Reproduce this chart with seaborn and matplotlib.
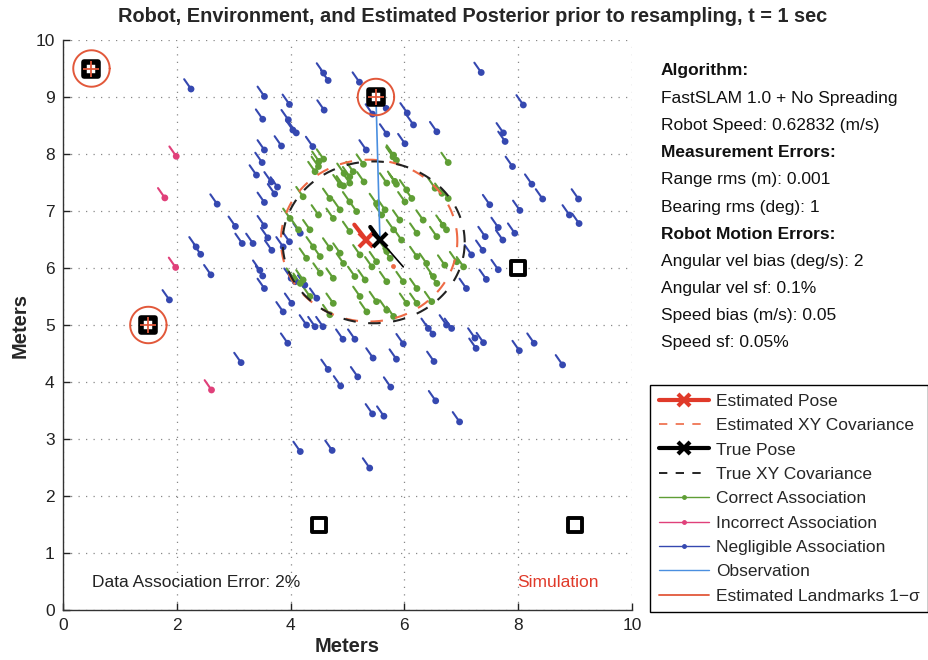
import numpy as np
import pandas as pd
import matplotlib
matplotlib.use("Agg")
import matplotlib.pyplot as plt
from matplotlib.lines import Line2D
import seaborn as sns

# ---------------- data ----------------
landmark_x = [0.5, 1.5, 5.5, 8.0, 4.5, 9.0]
landmark_y = [9.5, 5.0, 9.0, 6.0, 1.5, 1.5]
observed_x = [0.5, 1.5, 5.5]
observed_y = [9.5, 5.0, 9.0]

green_x = [6.77, 5.81, 4.50, 5.10, 4.94, 5.28, 4.43, 5.69, 5.83, 6.04, 6.54, 6.66, 4.87, 5.04, 4.69, 5.04,
           4.22, 5.51, 5.66, 6.01, 6.13, 6.33, 6.68, 3.99, 4.49, 4.75, 4.87, 5.16, 5.60, 5.92, 4.14, 4.34,
           5.04, 5.81, 5.95, 6.22, 6.57, 6.74, 4.40, 4.69, 4.87, 5.22, 4.28, 4.52, 4.93, 5.43, 5.51, 5.75,
           5.69, 6.22, 6.39, 6.71, 6.92, 4.05, 4.22, 4.52, 4.75, 5.13, 5.31, 5.69, 5.98, 6.22, 6.51, 6.57,
           4.34, 4.75, 5.22, 5.51, 5.69, 6.04, 6.22, 6.48, 4.69, 5.34, 5.81, 4.17, 4.58, 4.49, 5.04, 5.29,
           4.93, 5.86, 5.80, 5.86, 6.77, 7.04]
green_y = [7.85, 7.98, 7.87, 7.69, 7.66, 7.82, 7.69, 7.49, 7.52, 7.37, 7.40, 7.31, 7.46, 7.49, 7.22, 7.16,
           7.25, 7.13, 7.02, 7.16, 7.22, 6.84, 6.75, 6.87, 6.93, 6.87, 7.02, 6.99, 6.93, 6.84, 6.67, 6.67,
           6.64, 6.67, 6.49, 6.61, 6.55, 6.67, 6.37, 6.35, 6.26, 6.23, 6.17, 6.20, 6.08, 6.02, 6.11, 6.17,
           6.29, 6.20, 6.08, 6.05, 6.11, 5.82, 5.79, 5.91, 5.82, 5.85, 5.79, 5.76, 5.76, 5.64, 5.85, 5.73,
           5.50, 5.38, 5.50, 5.41, 5.26, 5.38, 5.38, 5.41, 5.18, 5.23, 5.15, 5.73, 7.91, 7.78, 7.60, 7.51,
           7.44, 7.89, 7.95, 7.47, 7.22, 6.02]

blue_x = [2.25, 3.54, 3.98, 3.51, 3.96, 4.04, 4.10, 3.54, 3.84, 3.50, 3.40, 3.66, 3.77, 3.72, 3.54, 2.71,
          3.03, 3.54, 3.15, 3.34, 3.60, 3.67, 2.34, 2.42, 3.98, 4.17, 3.87, 2.60, 3.46, 3.51, 3.54, 1.87,
          3.87, 4.02, 4.01, 4.08, 4.25, 4.46, 4.28, 4.43, 4.57,
          4.58, 4.66, 5.21, 7.35, 4.59, 5.44, 5.68, 6.05, 6.16, 6.57, 5.69, 6.01, 5.33, 4.39,
          8.09, 7.74, 7.77, 7.90, 8.24, 8.43, 9.06, 7.50, 8.03, 8.90, 9.07, 7.65, 7.42, 7.73, 7.94, 7.38,
          7.18, 7.65, 7.44, 7.09, 7.39, 8.02, 8.28, 8.78, 6.42, 6.74, 6.83, 7.24,
          3.95, 3.13, 4.92, 5.13, 5.98, 6.50, 7.26, 5.45, 5.86, 6.52, 4.66, 5.18, 4.88, 5.76, 6.55, 5.44,
          5.64, 6.97, 4.17, 4.73, 5.39]
blue_y = [9.14, 9.01, 8.87, 8.61, 8.60, 8.42, 8.37, 8.07, 8.14, 7.85, 7.63, 7.51, 7.42, 7.30, 7.15, 7.12,
          6.73, 6.74, 6.43, 6.43, 6.53, 6.31, 6.37, 6.24, 6.46, 6.61, 6.37, 5.88, 5.96, 5.86, 5.64, 5.44,
          5.23, 5.38, 5.82, 5.76, 5.70, 5.47, 5.00, 4.97, 4.97,
          9.42, 9.29, 9.26, 9.43, 8.77, 8.70, 8.80, 8.72, 8.51, 8.39, 8.35, 8.18, 8.07, 8.13,
          8.86, 8.37, 8.22, 7.78, 7.47, 7.21, 7.21, 7.11, 7.01, 6.93, 6.78, 6.71, 6.55, 6.49, 6.61, 6.31,
          6.23, 5.97, 5.80, 5.64, 4.69, 4.55, 4.68, 4.30, 4.94, 5.00, 4.94, 4.77,
          4.68, 4.34, 4.75, 4.75, 4.67, 4.84, 4.59, 4.42, 4.40, 4.36, 4.22, 4.09, 3.93, 3.91, 3.67, 3.44,
          3.40, 3.30, 2.78, 2.80, 2.49]

pink_x = [1.99, 1.79, 1.98, 2.61]
pink_y = [7.96, 7.23, 6.01, 3.86]

est_pose = (5.33, 6.49)
est_heading_tip = (5.12, 6.76)
true_pose = (5.57, 6.49)
true_heading_tip = (5.40, 6.72)
true_tail_tip = (5.98, 6.02)
stray_point = (5.80, 6.03)

est_cov = dict(cx=5.38, cy=6.48, rx=1.55, ry=1.42)
true_cov = dict(cx=5.46, cy=6.45, rx=1.60, ry=1.42)

algo_lines = [("Algorithm:", True), ("FastSLAM 1.0 + No Spreading", False),
              ("Robot Speed: 0.62832 (m/s)", False), ("Measurement Errors:", True),
              ("Range rms (m): 0.001", False), ("Bearing rms (deg): 1", False),
              ("Robot Motion Errors:", True), ("Angular vel bias (deg/s): 2", False),
              ("Angular vel sf: 0.1%", False), ("Speed bias (m/s): 0.05", False),
              ("Speed sf: 0.05%", False)]

legend_labels = ["Estimated Pose", "Estimated XY Covariance", "True Pose", "True XY Covariance",
                 "Correct Association", "Incorrect Association", "Negligible Association",
                 "Observation", "Estimated Landmarks 1\u2212\u03c3"]

# ---------------- style ----------------
sns.set_theme(style="white")
plt.rcParams["font.family"] = ["Liberation Sans", "DejaVu Sans"]

RED = "#e03a2a"
ORANGE = "#ee6a45"
GREEN = "#5f9e35"
BLUE = "#3548b0"
PINK = "#e0407a"
OBS = "#4a8fe0"
LMRED = "#e2583a"
FS = 12.5

fig = plt.figure(figsize=(9.29, 6.60), dpi=100)
ax = fig.add_axes([63 / 929, 50 / 660, 569 / 929, 570 / 660])

HEAD = np.deg2rad(125)
L = 0.21


def particles(xs, ys, color):
    xs = np.asarray(xs); ys = np.asarray(ys)
    tx = xs + L * np.cos(HEAD); ty = ys + L * np.sin(HEAD)
    px = np.column_stack([xs, tx, np.full_like(xs, np.nan)]).ravel()
    py = np.column_stack([ys, ty, np.full_like(ys, np.nan)]).ravel()
    ax.plot(px, py, color=color, lw=1.5, zorder=3)
    df = pd.DataFrame({"x": xs, "y": ys})
    sns.scatterplot(data=df, x="x", y="y", color=color, s=24, edgecolor="none", ax=ax, zorder=4)


particles(blue_x, blue_y, BLUE)
particles(green_x, green_y, GREEN)
particles(pink_x, pink_y, PINK)

# covariance ellipses
t = np.linspace(0, 2 * np.pi, 300)
ax.plot(est_cov["cx"] + est_cov["rx"] * np.cos(t), est_cov["cy"] + est_cov["ry"] * np.sin(t),
        color=ORANGE, lw=1.5, dashes=(6, 6), zorder=5)
ax.plot(true_cov["cx"] + true_cov["rx"] * np.cos(t), true_cov["cy"] + true_cov["ry"] * np.sin(t),
        color="#222222", lw=1.5, dashes=(6, 6), dash_capstyle="butt", zorder=5)

# observation
ax.plot([true_pose[0], observed_x[2]], [true_pose[1], observed_y[2]], color=OBS, lw=1.2, zorder=6)

# landmark circles
for lx, ly in zip(observed_x, observed_y):
    ax.plot(lx + 0.32 * np.cos(t), ly + 0.32 * np.sin(t), color=LMRED, lw=1.4, zorder=6)

# landmarks
lm = pd.DataFrame({"x": landmark_x, "y": landmark_y})
sns.scatterplot(data=lm, x="x", y="y", marker="s", s=95, facecolor="white", edgecolor="black",
                linewidth=2.8, ax=ax, zorder=7)
ob = pd.DataFrame({"x": observed_x, "y": observed_y})
sns.scatterplot(data=ob, x="x", y="y", marker="s", s=95, facecolor="white", edgecolor="black",
                linewidth=4.0, ax=ax, zorder=7)
ax.plot(observed_x, observed_y, ls="none", marker="+", ms=12, mew=1.3, color=LMRED, zorder=8)

# poses
ax.plot([true_pose[0], true_tail_tip[0]], [true_pose[1], true_tail_tip[1]], color="black", lw=1.2, zorder=8)
ax.plot([est_pose[0], est_heading_tip[0]], [est_pose[1], est_heading_tip[1]], color=RED, lw=3, zorder=9)
ax.plot([est_pose[0]], [est_pose[1]], marker="x", ms=10, mew=3, color=RED, zorder=9)
ax.plot([true_pose[0], true_heading_tip[0]], [true_pose[1], true_heading_tip[1]], color="black", lw=3, zorder=10)
ax.plot([true_pose[0]], [true_pose[1]], marker="x", ms=10, mew=3, color="black", zorder=10)
ax.plot([stray_point[0]], [stray_point[1]], marker="o", ms=3.5, color=ORANGE, mec="none", zorder=9)

# axes
ax.set_xlim(0, 10)
ax.set_ylim(0, 10)
ax.set_xticks(range(0, 11, 2))
ax.set_yticks(range(0, 11, 1))
ax.grid(True, color="#888888", lw=0.9, linestyle=(0, (1, 5)))
for s in ["top", "right"]:
    ax.spines[s].set_visible(False)
for s in ["left", "bottom"]:
    ax.spines[s].set_color("#333333")
    ax.spines[s].set_linewidth(1.0)
ax.tick_params(direction="in", length=5, width=1, labelsize=FS, colors="#222222", pad=6,
               bottom=True, left=True)
ax.set_xlabel("")
ax.set_ylabel("")

ax.text(0.51, 0.49, "Data Association Error: 2%", fontsize=FS, color="#222222", va="center", ha="left")
ax.text(7.98, 0.49, "Simulation", fontsize=FS, color=RED, va="center", ha="left")

fig.text(347 / 929, 1 - 647 / 660, "Meters", fontsize=14.5, fontweight="bold", ha="center", va="center")
fig.text(20 / 929, 1 - 325 / 660, "Meters", fontsize=14.5, fontweight="bold", ha="center", va="center",
         rotation=90)
fig.text(473 / 929, 1 - 17 / 660,
         "Robot, Environment, and Estimated Posterior prior to resampling, t = 1 sec",
         fontsize=14.4, fontweight="bold", ha="center", va="center")

for i, (txt, bold) in enumerate(algo_lines):
    fig.text(661 / 929, 1 - (71 + 27.2 * i) / 660, txt, fontsize=FS,
             fontweight="bold" if bold else "normal", ha="left", va="center", color="#111111")

handles = [
    Line2D([], [], color=RED, lw=3, marker="x", ms=9, mew=3),
    Line2D([], [], color=ORANGE, lw=1.2, dashes=(5, 5)),
    Line2D([], [], color="black", lw=3, marker="x", ms=9, mew=3),
    Line2D([], [], color="black", lw=1.2, dashes=(5, 5)),
    Line2D([], [], color=GREEN, lw=1, marker="o", ms=2.5),
    Line2D([], [], color=PINK, lw=1, marker="o", ms=2.5),
    Line2D([], [], color=BLUE, lw=1, marker="o", ms=2.5),
    Line2D([], [], color=OBS, lw=1),
    Line2D([], [], color=LMRED, lw=1.3),
]
leg = fig.legend(handles, legend_labels, loc="upper left", bbox_to_anchor=(650 / 929, 1 - 385 / 660),
                 bbox_transform=fig.transFigure, fontsize=FS, frameon=True, fancybox=False,
                 edgecolor="black", framealpha=1, handlelength=2.9, handletextpad=0.4,
                 labelspacing=0.53, borderpad=0.5, borderaxespad=0)
leg.get_frame().set_linewidth(1.0)

fig.savefig("out.png", dpi=100)
